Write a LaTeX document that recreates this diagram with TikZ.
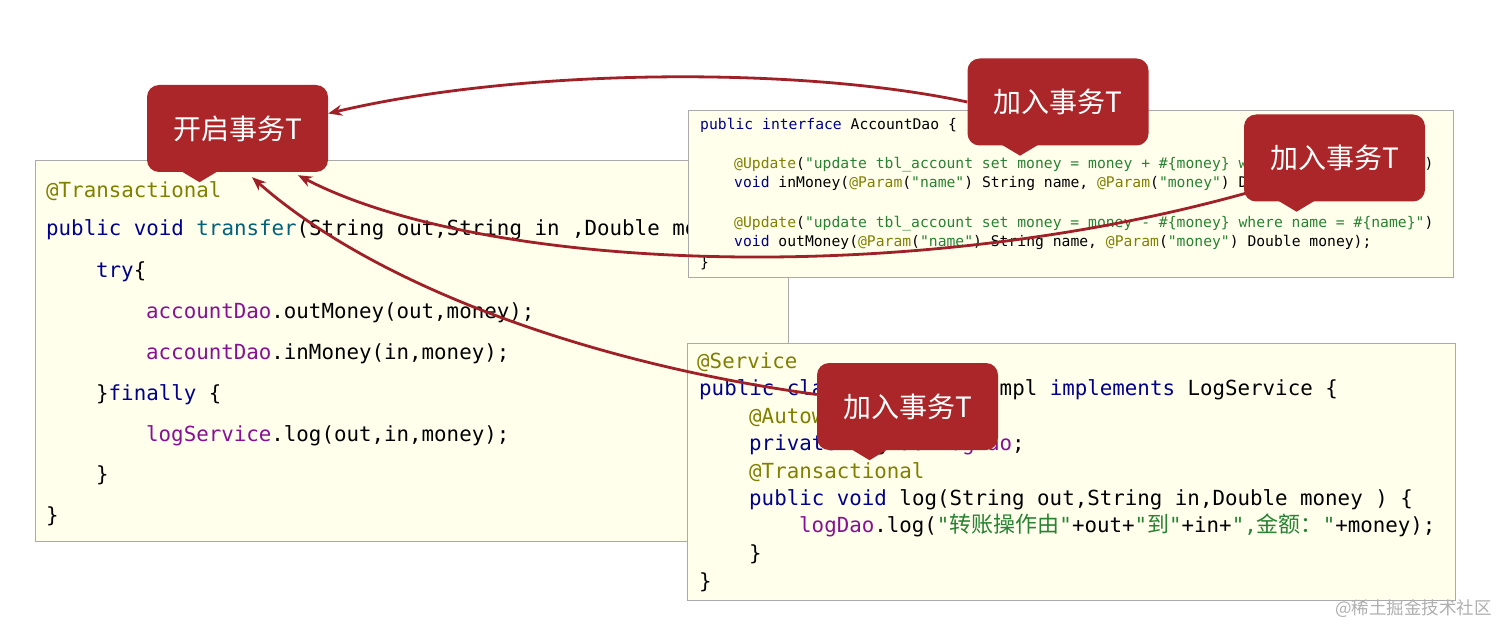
\documentclass[tikz,border=0pt]{standalone}
\usepackage{fontspec}
\setmonofont{DejaVu Sans Mono}
\newfontfamily\cjk{Noto Sans CJK SC}
\usetikzlibrary{arrows.meta}
\definecolor{ann}{RGB}{128,128,0}
\definecolor{kw}{RGB}{0,0,140}
\definecolor{fnc}{RGB}{0,98,122}
\definecolor{fld}{RGB}{135,16,148}
\definecolor{strg}{RGB}{40,130,50}
\definecolor{boxfill}{RGB}{255,255,236}
\definecolor{boxline}{RGB}{170,170,170}
\definecolor{redbox}{RGB}{170,38,40}
\definecolor{redline}{RGB}{160,32,40}
\definecolor{wmark}{RGB}{175,175,175}
\newcommand\xann[1]{\textcolor{ann}{#1}}
\newcommand\xkw[1]{\textcolor{kw}{#1}}
\newcommand\xfn[1]{\textcolor{fnc}{#1}}
\newcommand\xfld[1]{\textcolor{fld}{#1}}
\newcommand\xstr[1]{\textcolor{strg}{#1}}
\newcommand\zh[1]{{\cjk\fontsize{22}{24}\selectfont #1}}
\pgfdeclarelayer{bg}
\pgfdeclarelayer{mid}
\pgfsetlayers{bg,mid,main}
\tikzset{
  codebox/.style={draw=boxline, line width=1pt, fill=boxfill, anchor=north west, inner sep=0pt},
  bigcode/.style={anchor=base west, inner sep=0pt, font=\ttfamily\fontsize{20.8}{24}\selectfont},
  smallcode/.style={anchor=base west, inner sep=0pt, font=\ttfamily\fontsize{14.7}{17}\selectfont},
  callout/.style={fill=redbox, rounded corners=12pt, minimum width=181pt, minimum height=87pt, inner sep=0pt, text=white, font=\cjk\fontsize{28}{30}\selectfont},
  arr/.style={draw=redline, line width=2.8pt, -{Stealth[length=14pt,width=11pt]}},
}
\newcommand\pointer[1]{\fill[redbox] ([xshift=-58pt,yshift=2pt]#1.south) -- ([xshift=-38pt,yshift=-10pt]#1.south) -- ([xshift=-18pt,yshift=2pt]#1.south) -- cycle;}
\begin{document}
\begin{tikzpicture}[x=1pt,y=-1pt]
\begin{pgfonlayer}{bg}
\useasboundingbox (0,0) rectangle (1512,639);
\fill[white] (0,0) rectangle (1512,639);

% left box
\node[codebox, minimum width=753pt, minimum height=381pt] (leftbox) at (35,160) {};
\node[bigcode] (l1) at (46,197) {\xann{@Transactional}};
\node[bigcode] (l2) at (46,236) {\xkw{public void} \xfn{transfer}(String out,String in ,Double money)\{};
\node[bigcode] (l3) at (96,277) {\xkw{try}\{};
\node[bigcode] (l4) at (146,318) {\xfld{accountDao}.outMoney(out,money);};
\node[bigcode] (l5) at (146,359) {\xfld{accountDao}.inMoney(in,money);};
\node[bigcode] (l6) at (96,400) {\}\xkw{finally} \{};
\node[bigcode] (l7) at (146,441) {\xfld{logService}.log(out,in,money);};
\node[bigcode] (l8) at (96,481) {\}};
\node[bigcode] (l9) at (46,522) {\}};

% AccountDao box
\node[codebox, minimum width=765pt, minimum height=167pt] (daobox) at (688,110) {};
\node[smallcode] (a1) at (700,130) {\xkw{public interface} AccountDao \{};
\node[smallcode] (a2) at (734,169) {\xann{@Update}(\xstr{"update tbl\_account set money = money + \#\{money\} where name = \#\{name\}"})};
\node[smallcode] (a3) at (734,188) {\xkw{void} inMoney(\xann{@Param}(\xstr{"name"}) String name, \xann{@Param}(\xstr{"money"}) Double money);};
\node[smallcode] (a4) at (734,227) {\xann{@Update}(\xstr{"update tbl\_account set money = money - \#\{money\} where name = \#\{name\}"})};
\node[smallcode] (a5) at (734,246) {\xkw{void} outMoney(\xann{@Param}(\xstr{"name"}) String name, \xann{@Param}(\xstr{"money"}) Double money);};
\node[smallcode] (a6) at (700,267) {\}};

% LogService box
\node[codebox, minimum width=768pt, minimum height=257pt] (logbox) at (687,343) {};
\node[bigcode] (s1) at (697,368) {\xann{@Service}};
\node[bigcode] (s2) at (699,395) {\xkw{public class} LogServiceImpl \xkw{implements} LogService \{};
\node[bigcode] (s3) at (749,423) {\xann{@Autowired}};
\node[bigcode] (s4) at (749,450) {\xkw{private} LogDao \xfld{logDao};};
\node[bigcode] (s5) at (749,478) {\xann{@Transactional}};
\node[bigcode] (s6) at (749,505) {\xkw{public void} log(String out,String in,Double money ) \{};
\node[bigcode] (s7) at (799,532) {\xfld{logDao}.log(\xstr{"\zh{转账操作由}"}+out+\xstr{"\zh{到}"}+in+\xstr{",\zh{金额：}"}+money);};
\node[bigcode] (s8) at (749,560) {\}};
\node[bigcode] (s9) at (699,588) {\}};

% watermark
\node[anchor=east, inner sep=0pt, text=wmark, font=\cjk\fontsize{17.5}{20}\selectfont] (wm) at (1492,609) {@稀土掘金技术社区};
\end{pgfonlayer}

% callouts (top layer)
\node[callout] (c1) at (237.5,128.5) {开启事务T}; \pointer{c1}
\node[callout] (c2) at (1058,102) {加入事务T}; \pointer{c2}
\node[callout] (c3) at (1334.5,158) {加入事务T}; \pointer{c3}
\node[callout] (c4) at (907.5,406.5) {加入事务T}; \pointer{c4}

% arrows (between code boxes and callouts)
\begin{pgfonlayer}{mid}
\draw[arr] (c2.west) .. controls (800,66) and (520,68) .. ([yshift=15pt]c1.east);
\draw[arr] ([xshift=4pt,yshift=9pt]c3.south west) .. controls (900,290) and (480,270) .. ([xshift=60.5pt,yshift=-3pt]c1.south);
\draw[arr] ([yshift=12pt]c4.west) .. controls (600,365) and (380,290) .. ([xshift=14.5pt,yshift=-5pt]c1.south);
\end{pgfonlayer}
\end{tikzpicture}
\end{document}
